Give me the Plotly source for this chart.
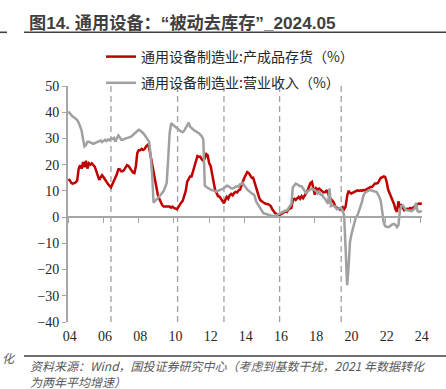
import pandas as pd
import plotly.graph_objects as go

# ---------------- data (monthly, Apr 2004 – May 2024) ----------------
start_month = "2004-04-01"

inventory_yoy = [  # 通用设备制造业:产成品存货 同比(%)
    14.5, 14.0, 13.0, 12.8, 13.0, 13.3, 14.0, 18.5, 19.8,                     # 2004 Apr-Dec
    18.5, 21.0, 19.0, 21.5, 18.5, 20.5, 20.0, 20.5, 19.8, 19.2, 17.5, 15.5,   # 2005
    14.2, 15.2, 16.0, 15.2, 14.1, 13.5, 12.6, 12.0, 11.3, 12.5, 13.8, 14.5,   # 2006
    16.3, 18.2, 18.3, 17.5, 17.5, 18.0, 19.0, 19.8, 19.5, 18.8, 17.8, 17.0,   # 2007
    16.8, 19.5, 24.5, 25.5, 25.5, 26.0, 25.6, 26.0, 27.0, 27.5, 26.5, 23.5,   # 2008
    19.0, 16.0, 14.0, 11.0, 8.5, 7.0, 5.5, 4.5, 4.0, 4.0, 3.8, 3.8,           # 2009
    4.0, 3.6, 4.0, 3.5, 3.2, 3.0, 3.8, 5.0, 5.6, 6.3, 8.0, 10.0,              # 2010
    13.5, 14.7, 15.5, 15.5, 17.5, 20.0, 22.0, 23.3, 23.0, 23.0, 22.0, 21.5,   # 2011
    22.5, 24.0, 23.5, 20.5, 19.5, 15.5, 13.5, 10.5, 8.8, 8.0, 7.8, 7.0,       # 2012
    6.0, 5.3, 6.5, 7.7, 7.0, 8.3, 8.8, 8.3, 9.2, 9.6, 9.4, 10.2,              # 2013
    10.5, 11.8, 13.5, 15.0, 16.0, 17.2, 16.8, 15.8, 15.0, 15.0, 13.0, 11.0,   # 2014
    9.0, 7.5, 6.4, 6.0, 5.4, 5.2, 5.0, 5.0, 4.6, 4.2, 3.0, 2.0,               # 2015
    1.5, 1.2, 0.8, 0.8, 1.2, 1.3, 2.0, 2.2, 2.0, 3.0, 3.2, 3.5,               # 2016
    6.5, 7.0, 6.5, 7.0, 7.7, 7.0, 8.0, 7.2, 8.0, 9.0, 10.0, 11.5,             # 2017
    13.0, 13.4, 10.5, 8.5, 11.0, 10.5, 10.9, 10.5, 10.0, 9.4, 9.5, 10.3,      # 2018
    9.0, 7.8, 6.8, 6.3, 5.5, 4.0, 3.5, 3.3, 2.9, 3.5, 3.8, 3.0,               # 2019
    4.0, 8.0, 10.0, 9.3, 9.0, 9.3, 9.6, 10.0, 10.2, 10.0, 10.2, 10.0,         # 2020
    10.3, 10.2, 10.5, 10.9, 11.0, 11.5, 11.5, 12.3, 12.8, 12.8, 13.0, 14.0,   # 2021
    15.0, 15.2, 15.5, 15.3, 13.5, 10.5, 9.3, 7.7, 6.8, 5.0, 3.0, 2.0,         # 2022
    6.0, 4.0, 4.5, 3.2, 2.6, 3.0, 3.2, 3.0, 3.5, 3.2, 3.5, 4.0,               # 2023
    4.5, 5.0, 5.2, 5.1, 5.2,                                                  # 2024 Jan-May
]

revenue_yoy = [  # 通用设备制造业:营业收入 同比(%)
    40.3, 39.5, 38.8, 38.3, 38.0, 37.5, 37.0, 36.0, 34.5,                     # 2004 Apr-Dec
    33.0, 29.5, 27.0, 27.5, 28.7, 28.7, 28.5, 28.2, 27.9, 28.2, 28.5, 28.5,   # 2005
    28.8, 29.2, 28.6, 29.2, 29.5, 29.0, 29.6, 29.3, 30.0, 29.8, 30.2, 28.8,   # 2006
    30.0, 31.2, 30.5, 29.5, 29.5, 29.8, 30.0, 30.2, 30.3, 30.5, 30.8, 31.3,   # 2007
    31.8, 32.3, 33.0, 33.3, 33.0, 32.6, 32.0, 31.3, 30.5, 30.0, 28.8, 24.0,   # 2008
    17.0, 5.5, 6.0, 6.8, 7.2, 7.8, 8.5, 9.3, 10.0, 11.5, 13.0, 22.0,          # 2009
    32.0, 35.8, 35.3, 34.7, 34.2, 33.9, 33.5, 33.0, 32.6, 32.4, 33.0, 34.0,   # 2010
    35.0, 36.0, 34.5, 33.8, 33.5, 33.0, 32.8, 32.3, 32.0, 31.5, 30.8, 29.5,   # 2011
    12.0, 11.5, 11.3, 10.8, 10.5, 10.3, 10.3, 9.8, 9.7, 10.0, 10.2, 10.3,     # 2012
    10.5, 11.0, 11.5, 12.0, 11.8, 11.3, 11.0, 10.9, 11.2, 11.5, 11.8, 11.6,   # 2013
    12.5, 12.5, 13.0, 12.0, 11.0, 10.5, 10.0, 9.3, 9.0, 8.8, 8.0, 6.0,        # 2014
    5.0, 4.0, 3.3, 2.5, 1.5, 1.3, 1.2, 1.0, 0.7, 0.5, 0.3, 0.3,               # 2015
    0.5, 0.8, 1.3, 1.5, 1.8, 2.2, 2.5, 2.5, 2.5, 3.5, 4.3, 5.0,               # 2016
    11.3, 12.0, 12.8, 12.5, 12.1, 11.8, 11.8, 11.0, 10.4, 9.2, 9.8, 10.2,     # 2017
    10.5, 10.9, 10.5, 10.3, 10.0, 9.0, 9.8, 8.5, 8.5, 7.5, 7.0, 6.0,          # 2018
    5.1, 11.0, 4.2, 4.5, 4.3, 4.0, 3.0, 3.3, 3.5, 3.6, 2.5, 0.5,              # 2019
    -12.0, -26.0, -19.5, -9.5, -6.5, -4.0, -2.3, 0.0, 0.6, 2.0, 3.8, 5.5,     # 2020
    8.0, 9.2, 9.6, 10.0, 10.2, 10.2, 10.0, 9.8, 9.8, 9.7, 8.8, 7.7,           # 2021
    6.0, 1.0, -2.0, -3.5, -3.8, -3.8, -3.6, -3.0, -2.7, -2.6, -3.0, -3.8,     # 2022
    -3.0, 2.5, 4.3, 4.5, 3.8, 2.8, 2.6, 2.6, 2.4, 2.3, 2.6, 3.2,              # 2023
    5.5, 2.3, 2.0, 2.2, 2.3,                                                  # 2024 Jan-May
]

series_names = ["通用设备制造业:产成品存货（%）", "通用设备制造业:营业收入（%）"]
tick_years = list(range(2004, 2025, 2))
tick_labels = [f"{y % 100:02d}" for y in tick_years]
phase_marks = ["2006-09-01", "2010-06-15", "2013-02-01", "2016-04-01", "2019-10-01"]
y_min, y_max, y_step = -40, 50, 10

title_text = "<b>图14. 通用设备：“被动去库存”_2024.05</b>"
source_line1 = "资料来源：Wind，国投证券研究中心（考虑到基数干扰，2021 年数据转化"
source_line2 = "为两年平均增速）"

# ---------------- figure ----------------
assert len(inventory_yoy) == len(revenue_yoy)
dates = pd.date_range(start_month, periods=len(inventory_yoy), freq="MS")

W, H = 446, 389
L, R, T, B = 68, 24, 86, 67
PW, PH = W - L - R, H - T - B


def px_x(px):
    return (px - L) / PW


def px_y(py):
    return 1 - (py - T) / PH


x_range = ["2004-03-24", "2024-05-04"]
axis_grey = "#A6A6A6"
serif = "Liberation Serif, Times New Roman, serif"
cjk = "Noto Sans CJK SC, sans-serif"

fig = go.Figure()
fig.add_trace(go.Scatter(x=dates, y=inventory_yoy, mode="lines", name=series_names[0],
                         legendgroup="a", line=dict(color="#C00000", width=2.5)))
fig.add_trace(go.Scatter(x=dates, y=revenue_yoy, mode="lines", name=series_names[1],
                         legendgroup="b", line=dict(color="#A0A0A0", width=2.5)))
# helper trace so the zero-crossing axis is drawn
fig.add_trace(go.Scatter(x=[dates[0]], y=[None], xaxis="x2", showlegend=False,
                         hoverinfo="skip", mode="lines"))

for d in phase_marks:
    fig.add_shape(type="line", xref="x", yref="paper", x0=d, x1=d, y0=0, y1=1,
                  line=dict(color="#A0A0A0", width=1.3, dash="6px,4px"), layer="below")

# title rule & footer rule
fig.add_shape(type="line", xref="paper", yref="paper", x0=px_x(24), x1=px_x(446),
              y0=px_y(32.3), y1=px_y(32.3), line=dict(color="#404040", width=1.6))
fig.add_shape(type="line", xref="paper", yref="paper", x0=px_x(0), x1=px_x(7),
              y0=px_y(32.3), y1=px_y(32.3), line=dict(color="#404040", width=1.6))
fig.add_shape(type="line", xref="paper", yref="paper", x0=px_x(24), x1=px_x(446),
              y0=px_y(356), y1=px_y(356), line=dict(color="#404040", width=1.6))

fig.add_annotation(text=title_text, xref="paper", yref="paper", x=px_x(27), y=px_y(23.5),
                   xanchor="left", yanchor="middle", showarrow=False,
                   font=dict(family="Liberation Sans, Noto Sans CJK SC, sans-serif", size=17.2, color="#3F3F3F"))
fig.add_annotation(text=source_line1, xref="paper", yref="paper", x=px_x(28), y=px_y(365),
                   xanchor="left", yanchor="middle", showarrow=False,
                   font=dict(family=cjk, size=12, color="#595959", style="italic"))
fig.add_annotation(text=source_line2, xref="paper", yref="paper", x=px_x(28), y=px_y(381.5),
                   xanchor="left", yanchor="middle", showarrow=False,
                   font=dict(family=cjk, size=12, color="#595959", style="italic"))
fig.add_annotation(text="化", xref="paper", yref="paper", x=px_x(18), y=px_y(357),
                   xanchor="right", yanchor="middle", showarrow=False,
                   font=dict(family=cjk, size=12, color="#595959", style="italic"))

fig.update_layout(
    width=W, height=H,
    margin=dict(l=L, r=R, t=T, b=B, pad=0, autoexpand=False),
    paper_bgcolor="white", plot_bgcolor="white",
    showlegend=True,
    legend=dict(x=px_x(101), y=px_y(41), xanchor="left", yanchor="top",
                font=dict(family=cjk, size=14, color="#262626"),
                bgcolor="rgba(0,0,0,0)", tracegroupgap=5, itemwidth=30,
                traceorder="grouped"),
    xaxis=dict(type="date", range=x_range,
               tickvals=[f"{y}-05-01" for y in tick_years], ticktext=tick_labels,
               showline=False, showgrid=False, zeroline=False, ticks="",
               ticklabelstandoff=4,
               tickfont=dict(family=serif, size=14, color="#262626")),
    xaxis2=dict(type="date", range=x_range, overlaying="x", anchor="free",
                position=(0 - y_min) / (y_max - y_min),
                tickvals=[f"{y}-04-01" for y in tick_years], showticklabels=False,
                ticks="outside", ticklen=5, tickwidth=1.3, tickcolor=axis_grey,
                showline=True, linecolor=axis_grey, linewidth=1.8,
                showgrid=False, zeroline=False),
    yaxis=dict(range=[y_min, y_max], tick0=0, dtick=y_step,
               showline=True, linecolor=axis_grey, linewidth=1.8,
               ticks="outside", ticklen=4, tickwidth=1.3, tickcolor=axis_grey,
               showgrid=False, zeroline=False,
               tickfont=dict(family=serif, size=14, color="#262626")),
)

fig.write_html("out.html", config={"displayModeBar": False},
               post_script="document.body.style.margin='0';")
